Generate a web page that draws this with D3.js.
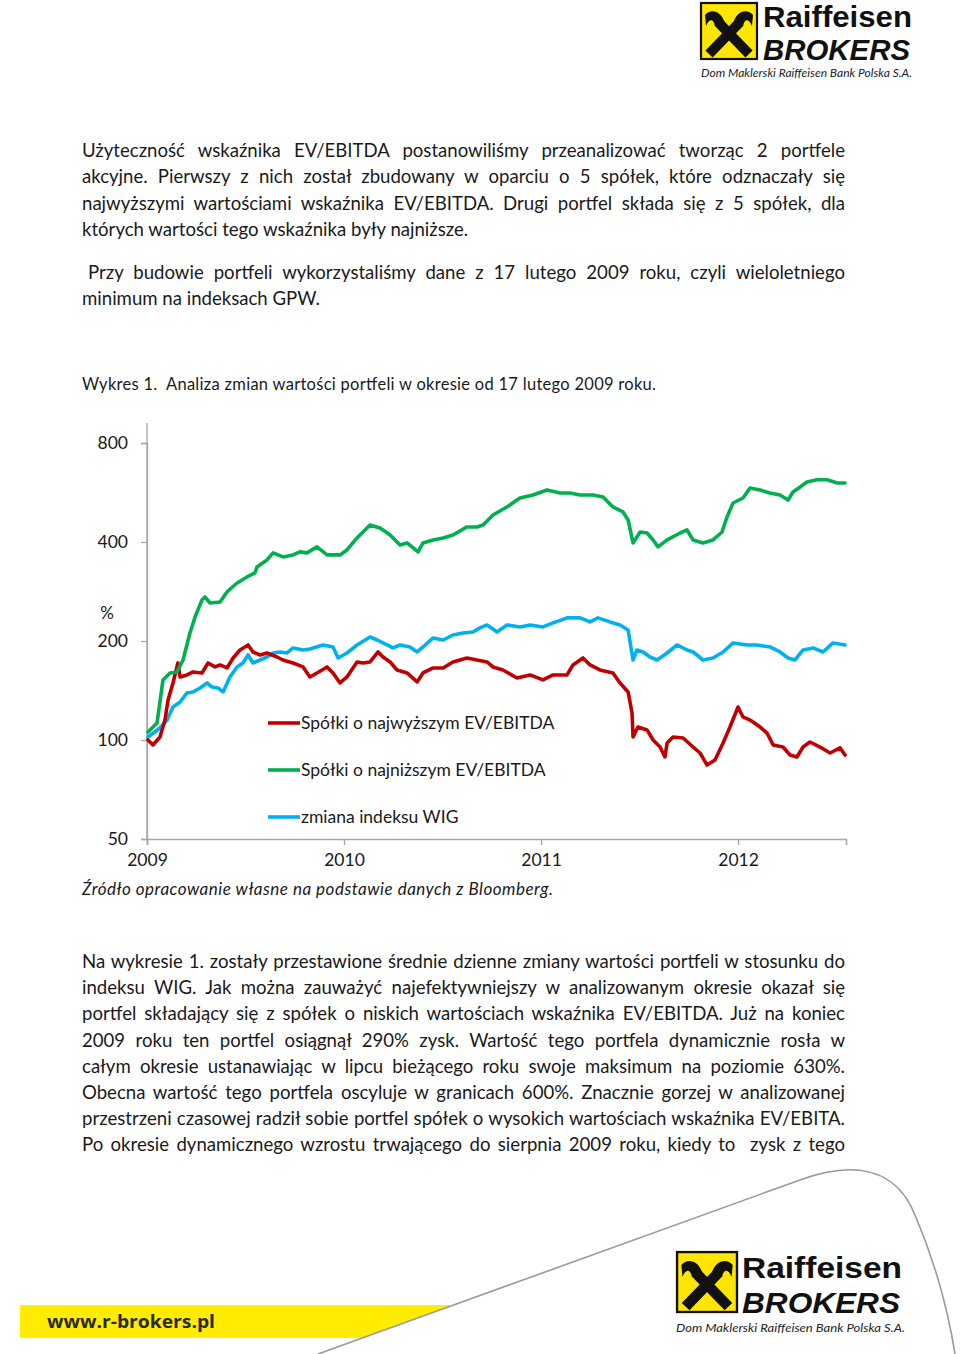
<!DOCTYPE html>
<html>
<head>
<meta charset="utf-8">
<script src="https://cdn.jsdelivr.net/npm/d3@7"></script>
<style>
  html, body { margin: 0; padding: 0; background: #fff; }
  svg { display: block; }
  text { white-space: pre; }
</style>
</head>
<body>
<svg id="page" width="960" height="1354"></svg>
<script>
// ---------------- DATA ----------------
const yTicks = [50, 100, 200, 400, 800];
const xTicks = [2009, 2010, 2011, 2012];
const xTickLabels = ["2009", "2010", "2011", "2012"];
const seriesNames = ["Spółki o najwyższym EV/EBITDA", "Spółki o najniższym EV/EBITDA", "zmiana indeksu WIG"];

const redYears = [2009.005,2009.030,2009.066,2009.091,2009.107,2009.132,2009.152,2009.157,2009.168,2009.203,2009.234,2009.279,2009.310,2009.345,2009.371,2009.406,2009.437,2009.472,2009.513,2009.538,2009.574,2009.609,2009.660,2009.690,2009.741,2009.792,2009.827,2009.863,2009.914,2009.944,2009.980,2010.015,2010.066,2010.096,2010.132,2010.173,2010.198,2010.234,2010.269,2010.320,2010.371,2010.401,2010.452,2010.503,2010.553,2010.624,2010.675,2010.726,2010.756,2010.807,2010.878,2010.944,2011.010,2011.061,2011.132,2011.162,2011.213,2011.249,2011.299,2011.365,2011.401,2011.442,2011.462,2011.467,2011.492,2011.538,2011.569,2011.604,2011.629,2011.640,2011.670,2011.721,2011.772,2011.807,2011.843,2011.883,2011.924,2011.959,2012.000,2012.025,2012.061,2012.112,2012.147,2012.178,2012.228,2012.264,2012.299,2012.330,2012.365,2012.416,2012.467,2012.518,2012.543];
const redValues = [100,96.6,102.1,115,132.3,149.1,166.8,171.5,155.5,157.7,161,159.9,171.5,166.8,169.1,165.6,177.6,187.8,194.5,185.2,181.3,183.9,178.8,175.1,171.5,166.8,155.5,159.9,166.8,159.9,149.1,155.5,172.7,171.5,172.7,185.2,178.8,172.7,163.3,159.9,150.2,159.9,165.6,165.6,172.7,177.6,175.1,172.7,166.8,163.3,154.4,157.7,152.3,157.7,157.7,169.1,177.6,169.1,163.3,159.9,149.1,140,120.8,102.1,109.5,107.3,100,95.2,88.8,97.9,102.1,101.4,95.2,91.3,83.9,86.9,97.9,109.5,126,117.5,115,109.5,105,96.6,95.2,90,88.8,95.2,98.6,95.2,91.3,94.6,90];

const greenYears = [2009.005,2009.051,2009.081,2009.117,2009.152,2009.183,2009.218,2009.244,2009.279,2009.294,2009.320,2009.371,2009.406,2009.457,2009.508,2009.548,2009.558,2009.609,2009.640,2009.690,2009.741,2009.777,2009.812,2009.863,2009.914,2009.980,2010.015,2010.066,2010.132,2010.183,2010.234,2010.284,2010.320,2010.376,2010.401,2010.452,2010.503,2010.553,2010.624,2010.675,2010.706,2010.756,2010.827,2010.893,2010.959,2011.030,2011.096,2011.147,2011.198,2011.264,2011.315,2011.365,2011.416,2011.442,2011.467,2011.503,2011.538,2011.569,2011.594,2011.640,2011.706,2011.741,2011.772,2011.822,2011.873,2011.919,2011.944,2011.975,2012.025,2012.061,2012.112,2012.162,2012.213,2012.254,2012.279,2012.315,2012.350,2012.401,2012.452,2012.503,2012.543];
const greenValues = [105.8,112.6,152.3,159.9,161,175.1,211.6,236.7,266.5,272.2,260.9,262.7,282,300.2,313.2,322.1,336,352.8,370.6,360.3,365.4,373.2,370.6,386.5,365.4,365.4,378.4,411.5,450.7,441.4,420.2,391.9,397.4,373.2,397.4,405.8,411.5,420.2,444.5,444.5,450.7,483.4,511.2,544.3,555.9,575.8,563.8,563.8,555.9,555.9,548,511.2,493.7,466.8,397.4,429,426,405.8,386.5,405.8,426,435.2,405.8,397.4,405.8,429,476.7,525.6,544.3,583.9,575.8,563.8,555.9,536.7,567.8,588,608.9,618.7,618.7,604.7,604.7];

const wigYears = [2009.005,2009.066,2009.102,2009.132,2009.168,2009.203,2009.234,2009.269,2009.305,2009.330,2009.360,2009.386,2009.421,2009.457,2009.487,2009.513,2009.538,2009.574,2009.609,2009.640,2009.675,2009.711,2009.741,2009.792,2009.827,2009.893,2009.944,2009.970,2010.015,2010.066,2010.132,2010.168,2010.198,2010.249,2010.284,2010.335,2010.371,2010.401,2010.452,2010.503,2010.553,2010.604,2010.655,2010.690,2010.726,2010.777,2010.827,2010.893,2010.944,2011.010,2011.061,2011.132,2011.198,2011.249,2011.289,2011.350,2011.401,2011.442,2011.467,2011.487,2011.518,2011.553,2011.589,2011.640,2011.690,2011.741,2011.772,2011.822,2011.873,2011.924,2011.975,2012.046,2012.096,2012.162,2012.213,2012.254,2012.289,2012.330,2012.381,2012.431,2012.482,2012.543];
const wigValues = [102.1,108.8,115,126,130.5,139,140,143.9,149.1,144.9,143.9,140,155.5,166.8,171.5,181.3,171.5,175.1,178.8,183.9,185.2,183.9,190.5,187.8,189.1,194.5,191.8,177.6,183.9,194.5,205.7,201.4,197.3,190.5,194.5,191.8,185.2,191.8,204.3,201.4,208.6,211.6,213.1,219.2,223.8,213.1,223.8,220.7,223.8,220.7,227,235.1,235.1,228.6,235.1,228.6,223.8,216.1,175.1,187.8,185.2,178.8,175.1,183.9,194.5,187.8,185.2,175.1,177.6,185.2,197.3,194.5,194.5,191.8,185.2,177.6,175.1,187.8,190.5,185.2,197.3,194.5];

const seriesColors = ["#c00000", "#00b050", "#00b0f0"];

// ---------------- TEXT ----------------
const para1 = [
  {t: "Użyteczność wskaźnika EV/EBITDA postanowiliśmy przeanalizować tworząc 2 portfele", x: 82, w: 763},
  {t: "akcyjne. Pierwszy z nich został zbudowany w oparciu o 5 spółek, które odznaczały się", x: 82, w: 763},
  {t: "najwyższymi wartościami wskaźnika EV/EBITDA. Drugi portfel składa się z 5 spółek, dla", x: 82, w: 763},
  {t: "których wartości tego wskaźnika były najniższe.", x: 82, w: 0}
];
const para2 = [
  {t: "Przy budowie portfeli wykorzystaliśmy dane z 17 lutego 2009 roku, czyli wieloletniego", x: 88, w: 757},
  {t: "minimum na indeksach GPW.", x: 82, w: 0}
];
const para3 = [
  {t: "Na wykresie 1. zostały przestawione średnie dzienne zmiany wartości portfeli w stosunku do", x: 82, w: 763},
  {t: "indeksu WIG. Jak można zauważyć najefektywniejszy w analizowanym okresie okazał się", x: 82, w: 763},
  {t: "portfel składający się z spółek o niskich wartościach wskaźnika EV/EBITDA. Już na koniec", x: 82, w: 763},
  {t: "2009 roku ten portfel osiągnął 290% zysk. Wartość tego portfela dynamicznie rosła w", x: 82, w: 763},
  {t: "całym okresie ustanawiając w lipcu bieżącego roku swoje maksimum na poziomie 630%.", x: 82, w: 763},
  {t: "Obecna wartość tego portfela oscyluje w granicach 600%. Znacznie gorzej w analizowanej", x: 82, w: 763},
  {t: "przestrzeni czasowej radził sobie portfel spółek o wysokich wartościach wskaźnika EV/EBITA.", x: 82, w: 763},
  {t: "Po okresie dynamicznego wzrostu trwającego do sierpnia 2009 roku, kiedy to  zysk z tego", x: 82, w: 763}
];

const svg = d3.select("#page");
const BODY_FONT = "Lato, 'Open Sans', sans-serif";
const CHART_FONT = "Lato, 'Open Sans', sans-serif";

function drawLines(lines, y0, step, size) {
  lines.forEach((l, i) => {
    const t = svg.append("text")
      .attr("x", l.x).attr("y", y0 + i * step)
      .attr("font-family", BODY_FONT).attr("font-size", size)
      .attr("fill", "#1a1a1a")
      .text(l.t);
    if (l.w > 0) {
      const nat = t.node().getComputedTextLength();
      const spaces = (l.t.match(/ /g) || []).length;
      if (spaces > 0 && nat < l.w) t.attr("word-spacing", (l.w - nat) / spaces);
      else t.attr("textLength", l.w).attr("lengthAdjust", "spacing");
    }
  });
}
drawLines(para1, 157, 26.3, 18.6);
drawLines(para2, 279, 26.3, 18.6);
drawLines(para3, 968, 26.2, 18.6);

svg.append("text").attr("x", 82).attr("y", 390)
  .attr("font-family", CHART_FONT).attr("font-size", 16.5).attr("fill", "#1a1a1a")
  .attr("textLength", 574).attr("lengthAdjust", "spacing")
  .text("Wykres 1.  Analiza zmian wartości portfeli w okresie od 17 lutego 2009 roku.");

svg.append("text").attr("x", 82).attr("y", 895)
  .attr("font-family", BODY_FONT).attr("font-size", 17).attr("font-style", "italic").attr("fill", "#1a1a1a")
  .attr("textLength", 471).attr("lengthAdjust", "spacing")
  .text("Źródło opracowanie własne na podstawie danych z Bloomberg.");

// ---------------- CHART ----------------
const x = d3.scaleLinear().domain([2009, 2012.548]).range([147, 846]);
const y = d3.scaleLog().base(2).domain([50, 800]).range([839, 443]);

const chart = svg.append("g");

chart.append("line").attr("x1", x(2009)).attr("x2", x(2009))
  .attr("y1", 423).attr("y2", y(50)).attr("stroke", "#a6a6a6").attr("stroke-width", 1.3);

const yAxis = d3.axisLeft(y).tickValues(yTicks).tickSize(6).tickPadding(13)
  .tickFormat(d => String(d));
const gy = chart.append("g").attr("transform", `translate(${x(2009)},0)`).call(yAxis);
gy.select(".domain").attr("stroke", "#a6a6a6").attr("stroke-width", 1.3);
gy.selectAll(".tick line").attr("stroke", "#a6a6a6").attr("stroke-width", 1.3);
gy.selectAll(".tick text").attr("font-family", CHART_FONT).attr("font-size", 17.5).attr("fill", "#1a1a1a");

const xAxis = d3.axisBottom(x).tickValues(xTicks).tickSize(6).tickPadding(9)
  .tickFormat((d, i) => xTickLabels[i]);
const gx = chart.append("g").attr("transform", `translate(0,${y(50)})`).call(xAxis);
gx.select(".domain").attr("stroke", "#a6a6a6").attr("stroke-width", 1.6);
gx.selectAll(".tick line").attr("stroke", "#a6a6a6").attr("stroke-width", 1.3);
gx.selectAll(".tick text").attr("font-family", CHART_FONT).attr("font-size", 17.5).attr("fill", "#1a1a1a");

chart.append("text").attr("x", 107).attr("y", 619).attr("text-anchor", "middle")
  .attr("font-family", CHART_FONT).attr("font-size", 17).attr("fill", "#1a1a1a").text("%");

const line = d3.line().x(d => x(d[0])).y(d => y(d[1]));
const series = [
  d3.zip(redYears, redValues),
  d3.zip(greenYears, greenValues),
  d3.zip(wigYears, wigValues)
];
[2, 0, 1].forEach(i => {
  chart.append("path").datum(series[i]).attr("d", line)
    .attr("fill", "none").attr("stroke", seriesColors[i])
    .attr("stroke-width", 3.6).attr("stroke-linejoin", "round").attr("stroke-linecap", "round");
});

const legendY = [723, 770, 817];
seriesNames.forEach((n, i) => {
  chart.append("line").attr("x1", 268).attr("x2", 300)
    .attr("y1", legendY[i]).attr("y2", legendY[i])
    .attr("stroke", seriesColors[i]).attr("stroke-width", 3.6);
  chart.append("text").attr("x", 301).attr("y", legendY[i] + 6)
    .attr("font-family", CHART_FONT).attr("font-size", 17.5).attr("fill", "#1a1a1a")
    .text(n);
});

// ---------------- LOGOS ----------------
function drawLogo(gx0, gy0, s) {
  const g = svg.append("g").attr("transform", `translate(${gx0},${gy0}) scale(${s})`);
  g.append("rect").attr("x", 1).attr("y", 1).attr("width", 56).attr("height", 56)
    .attr("fill", "#ffe600").attr("stroke", "#111").attr("stroke-width", 2.2);
  g.append("line").attr("x1", 9).attr("y1", 52).attr("x2", 40).attr("y2", 20)
    .attr("stroke", "#111").attr("stroke-width", 10);
  g.append("line").attr("x1", 49).attr("y1", 52).attr("x2", 18).attr("y2", 20)
    .attr("stroke", "#111").attr("stroke-width", 10);
  g.append("path").attr("d", "M33,22 C36,9 47,6 53,13 L52,24 C49,17 45,16 43,24 Z").attr("fill", "#111");
  g.append("path").attr("d", "M25,22 C22,9 11,6 5,13 L6,24 C9,17 13,16 15,24 Z").attr("fill", "#111");
}
drawLogo(700, 2, 1.0);
svg.append("text").attr("x", 763).attr("y", 27).attr("font-family", "'Liberation Sans', Arial, sans-serif")
  .attr("font-weight", 700).attr("font-size", 29).attr("fill", "#111")
  .attr("textLength", 149).attr("lengthAdjust", "spacingAndGlyphs").text("Raiffeisen");
svg.append("text").attr("x", 763).attr("y", 60).attr("font-family", "'Liberation Sans', Arial, sans-serif")
  .attr("font-weight", 700).attr("font-style", "italic").attr("font-size", 29).attr("fill", "#111")
  .attr("textLength", 147).attr("lengthAdjust", "spacingAndGlyphs").text("BROKERS");
svg.append("text").attr("x", 701).attr("y", 77).attr("font-family", BODY_FONT)
  .attr("font-style", "italic").attr("font-size", 11.5).attr("fill", "#222")
  .attr("textLength", 211).attr("lengthAdjust", "spacingAndGlyphs").text("Dom Maklerski Raiffeisen Bank Polska S.A.");

// footer
svg.append("path").attr("d", "M20,1305 L452,1305 L362,1338 L20,1338 Z").attr("fill", "#ffec00");
svg.append("path")
  .attr("d", "M318,1354 L800,1180 C850,1162 895,1165 915,1215 C935,1262 948,1310 955,1354")
  .attr("fill", "none").attr("stroke", "#9a9a9a").attr("stroke-width", 1.6);
svg.append("text").attr("x", 47).attr("y", 1328).attr("font-family", "'Open Sans', sans-serif")
  .attr("font-weight", 700).attr("font-size", 18).attr("fill", "#2a2a2a")
  .attr("textLength", 168).attr("lengthAdjust", "spacingAndGlyphs").text("www.r-brokers.pl");

drawLogo(676, 1251, 1.07);
svg.append("text").attr("x", 742).attr("y", 1278).attr("font-family", "'Liberation Sans', Arial, sans-serif")
  .attr("font-weight", 700).attr("font-size", 30).attr("fill", "#111")
  .attr("textLength", 160).attr("lengthAdjust", "spacingAndGlyphs").text("Raiffeisen");
svg.append("text").attr("x", 742).attr("y", 1313).attr("font-family", "'Liberation Sans', Arial, sans-serif")
  .attr("font-weight", 700).attr("font-style", "italic").attr("font-size", 30).attr("fill", "#111")
  .attr("textLength", 158).attr("lengthAdjust", "spacingAndGlyphs").text("BROKERS");
svg.append("text").attr("x", 676).attr("y", 1332).attr("font-family", BODY_FONT)
  .attr("font-style", "italic").attr("font-size", 12).attr("fill", "#222")
  .attr("textLength", 229).attr("lengthAdjust", "spacingAndGlyphs").text("Dom Maklerski Raiffeisen Bank Polska S.A.");
</script>
</body>
</html>
